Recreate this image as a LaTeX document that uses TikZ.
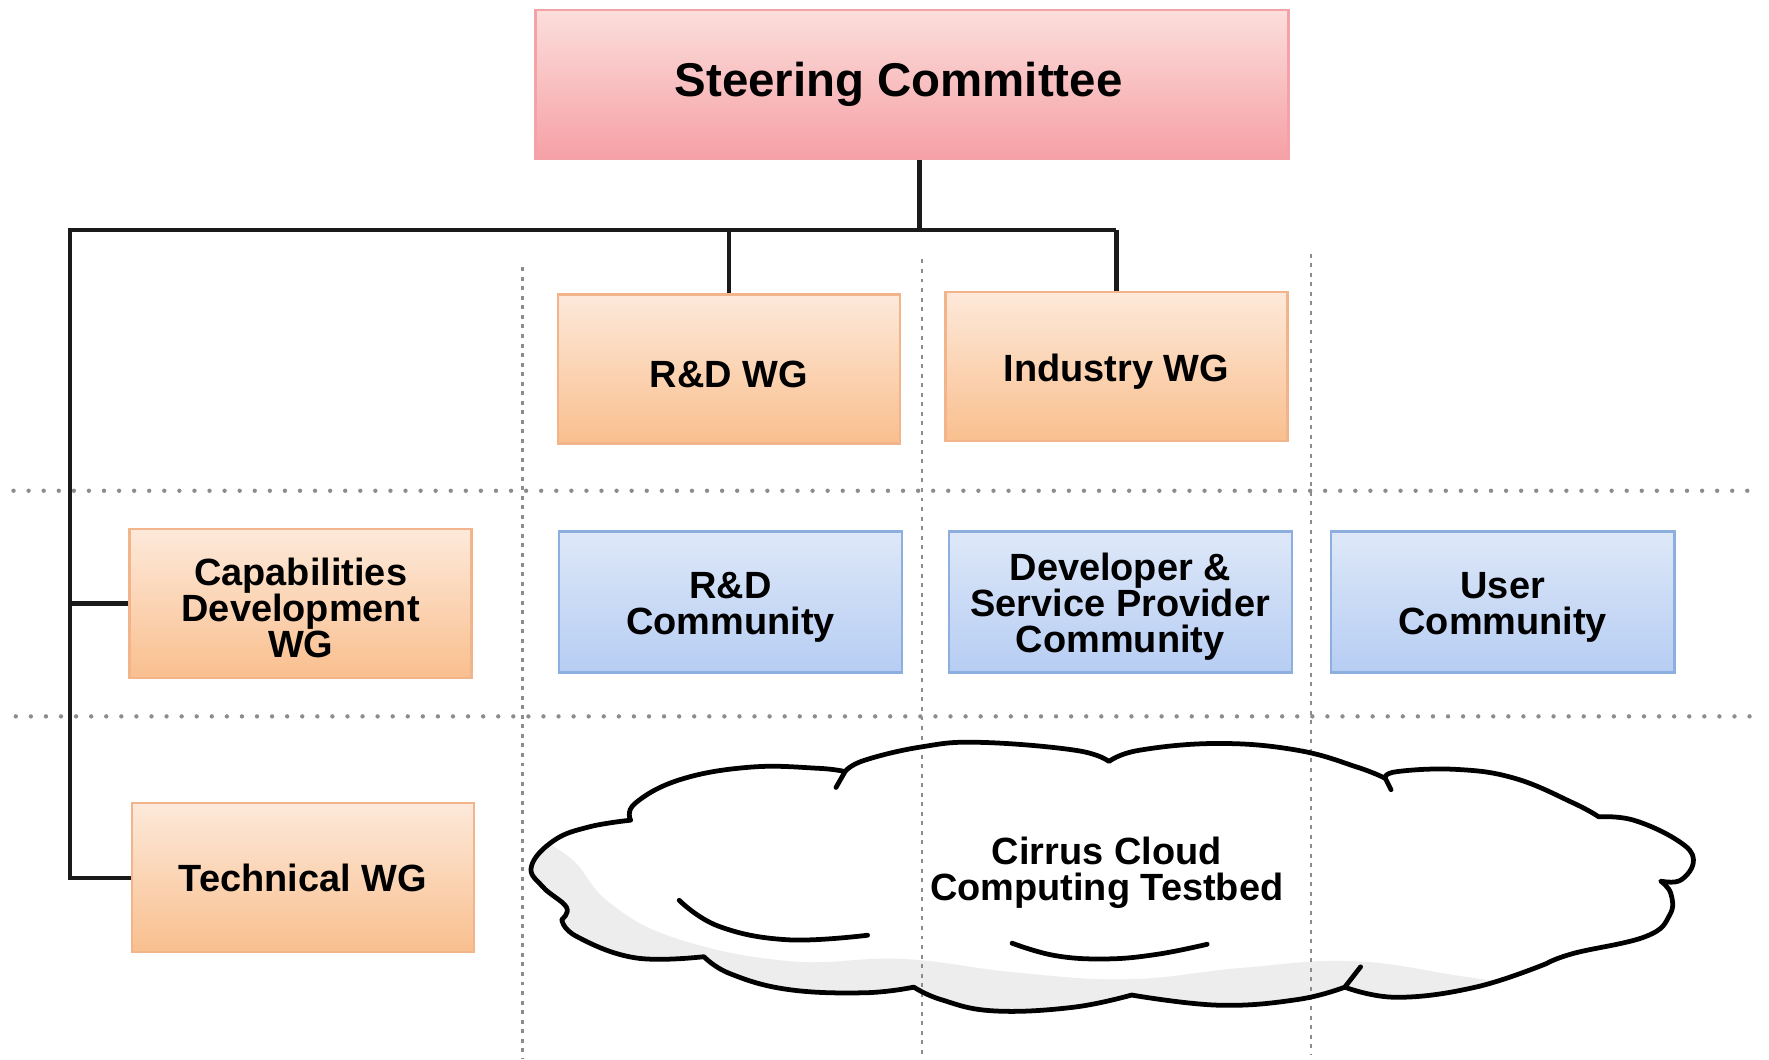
\documentclass[tikz,border=0pt]{standalone}
\usepackage{fontspec}
\setmainfont{Liberation Sans}
\definecolor{orT}{HTML}{FDE9DA}
\definecolor{orB}{HTML}{F9BF8E}
\definecolor{orD}{HTML}{F2B48A}
\definecolor{pkT}{HTML}{FBDEDB}
\definecolor{pkB}{HTML}{F6A0A6}
\definecolor{pkD}{HTML}{F3A3A8}
\definecolor{blT}{HTML}{DEE8F8}
\definecolor{blB}{HTML}{B6CDF3}
\definecolor{blD}{HTML}{8CAFE0}
\definecolor{dotc}{HTML}{8C8C8C}
\definecolor{linec}{HTML}{1A1A1A}
\newcommand\uptop{\rule{0pt}{9.3pt}}
\newcommand\cloudoutline{%
 plot[smooth,tension=0.7] coordinates {(559,727) (563,712) (603,691) (665,680) (725,681) (749,684)}
 -- plot[smooth,tension=0.7] coordinates {(749,684) (766,674) (817,662) (868,658) (953,665) (983,675)}
 -- plot[smooth,tension=0.7] coordinates {(983,675) (1010,665) (1080,659) (1150,665) (1203,680) (1228,690)}
 -- plot[smooth,tension=0.7] coordinates {(1228,690) (1238,684) (1291,682) (1343,690) (1395,712) (1417,724)}
 -- plot[smooth,tension=0.7] coordinates {(1417,724) (1448,727) (1487,745) (1501,762) (1490,780) (1472,781)}
 -- plot[smooth,tension=0.7] coordinates {(1472,781) (1481,792) (1480,811) (1459,830) (1395,845) (1371,854)}
 -- plot[smooth,tension=0.7] coordinates {(1371,854) (1308,875) (1238,884) (1192,875)}
 -- plot[smooth,tension=0.7] coordinates {(1192,875) (1150,886) (1080,891) (1003,882)}
 -- plot[smooth,tension=0.7] coordinates {(1003,882) (950,893) (880,896) (834,886) (810,875)}
 -- plot[smooth,tension=0.7] coordinates {(810,875) (766,880) (698,877) (647,863) (624,848)}
 -- plot[smooth,tension=0.7] coordinates {(624,848) (563,849) (511,830) (498,815)}
 -- plot[smooth,tension=0.7] coordinates {(498,815) (502,804) (481,786) (471,768) (491,745) (522,733) (559,727)}
 -- cycle}
\tikzset{
  box/.style={rectangle, inner sep=0pt, line width=0.6pt, align=center,
    font=\bfseries\fontsize{9.56pt}{9.1pt}\selectfont, text=black},
  obox/.style={box, draw=orD, top color=orT, bottom color=orB,
    minimum width=3.03cm, minimum height=1.32cm},
  bbox/.style={box, draw=blD, top color=blT, bottom color=blB,
    minimum width=3.04cm, minimum height=1.25cm},
  pbox/.style={box, draw=pkD, top color=pkT, bottom color=pkB,
    minimum width=6.67cm, minimum height=1.32cm,
    font=\bfseries\fontsize{11.95pt}{12pt}\selectfont},
  hdots/.style={draw=dotc, line width=1.1pt, line cap=round, dash pattern=on 0pt off 3.8pt},
  vdots/.style={draw=dotc, line width=0.6pt, dash pattern=on 1pt off 1.4pt},
  tree/.style={draw=linec, line width=1.1pt},
  cloudline/.style={draw=black, line width=1.2pt, line join=round, line cap=round},
}
\begin{document}
\begin{tikzpicture}[x=0.01cm, y=-0.01cm]
\useasboundingbox (0,0) rectangle (1568,938.7);

% cloud background
\fill[white] \cloudoutline;
\begin{scope}
  \clip \cloudoutline;
  \fill[gray!14] plot[smooth,tension=0.7] coordinates {(460,735) (505,760) (540,800) (600,832) (700,852) (800,850) (900,862) (1000,868) (1100,858) (1200,852) (1300,866) (1420,884)}
     -- (1420,940) -- (460,940) -- cycle;
\end{scope}

% dotted grid
\draw[hdots] (12,435) -- (1560,435);
\draw[hdots] (14,635) -- (1560,635);
\draw[vdots] (463,237) -- (463,938);
\draw[vdots] (817,230) -- (817,938);
\draw[vdots] (1162,225) -- (1162,935);

% cloud outline and inner arcs
\draw[cloudline] \cloudoutline;
\draw[cloudline] (749,684) -- (741,698);
\draw[cloudline] (1228,690) -- (1233,700);
\draw[cloudline] (1192,875) -- (1206,857);
\draw[cloudline] plot[smooth,tension=0.7] coordinates {(602,798) (637,821) (698,833) (769,829)};
\draw[cloudline] plot[smooth,tension=0.7] coordinates {(897,836) (935,847) (980,850) (1025,846) (1070,837)};
\node[font=\bfseries\fontsize{9.56pt}{9.1pt}\selectfont, align=center, inner sep=0pt] (cloudtxt) at (981,774) {Cirrus Cloud\\Computing Testbed};

% boxes
\node[pbox] (sc) at (808.5,75) {Steering Committee\hspace*{0.24cm}};
\node[obox] (rdwg) at (646,327) {\uptop R\&D WG};
\node[obox] (indwg) at (989.5,325) {\uptop Industry WG};
\node[obox] (cap) at (266.5,535) {\uptop Capabilities\\Development\\WG};
\node[obox] (tech) at (268.5,778) {Technical WG};
\node[bbox] (rdc) at (647.5,533.5) {\uptop R\&D\\Community};
\node[bbox] (dev) at (993,533.5) {\uptop Developer \&\\Service Provider\\Community};
\node[bbox] (usr) at (1332,533.5) {\uptop User\\Community};

% tree connectors
\coordinate (bus) at (815,204);
\coordinate (busL) at (62,204);
\draw[tree] (bus |- sc.south) -- (bus);
\draw[tree] (busL -| indwg.north) -- (busL) |- (tech.west);
\draw[tree] (busL -| rdwg.north) -- (rdwg.north);
\draw[tree] (busL -| indwg.north) -- (indwg.north);
\draw[tree] (busL |- cap.west) -- (cap.west);
\end{tikzpicture}
\end{document}
